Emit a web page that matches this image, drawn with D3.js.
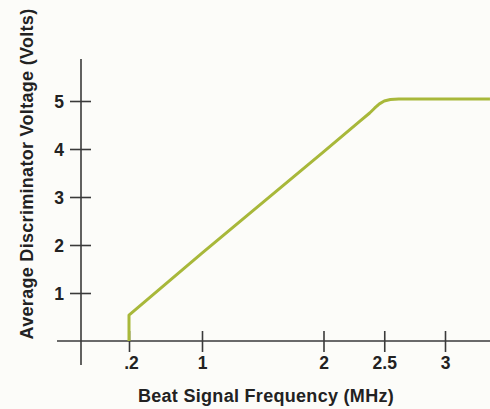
<!DOCTYPE html>
<html>
<head>
<meta charset="utf-8">
<script src="https://cdn.jsdelivr.net/npm/d3@7"></script>
<style>
  body { margin: 0; background: #fcfcf9; }
  svg { display: block; }
  text { font-family: "Liberation Sans", Arial, Helvetica, sans-serif; font-weight: bold; fill: #222; }
</style>
</head>
<body>
<div id="chart"></div>
<script>
// frequency (MHz) and voltage
const freqs = [0.2, 0.2, 1, 2, 2.3, 2.38, 2.42, 2.46, 2.5, 2.55, 2.62, 3.37];
const volts = [0, 0.54, 1.83, 3.94, 4.58, 4.75, 4.85, 4.94, 5.0, 5.03, 5.04, 5.04];
const xTicks = [0.2, 1, 2, 2.5, 3];
const xTickLabels = [".2", "1", "2", "2.5", "3"];
const yTicks = [1, 2, 3, 4, 5];

const width = 490, height = 409;
const axisX = 81, axisY = 341;

const svg = d3.select("#chart").append("svg")
    .attr("width", width)
    .attr("height", height);

// the original axis is not uniform between .2 and 1
const x = d3.scaleLinear()
    .domain([0.2, 1, 3])
    .range([129, 202, 445]);

const y = d3.scaleLinear()
    .domain([0, 5])
    .range([axisY, 101]);

// axis lines
svg.append("line")
    .attr("x1", 57).attr("x2", width)
    .attr("y1", axisY).attr("y2", axisY)
    .attr("stroke", "#3a3a3a").attr("stroke-width", 1.6);

svg.append("line")
    .attr("x1", axisX).attr("x2", axisX)
    .attr("y1", 59).attr("y2", 365)
    .attr("stroke", "#3a3a3a").attr("stroke-width", 1.6);

// x axis
const gx = svg.append("g")
    .attr("transform", `translate(0,${axisY})`)
    .call(d3.axisBottom(x)
        .tickValues(xTicks)
        .tickFormat((d, i) => xTickLabels[i]));
gx.select(".domain").remove();
gx.selectAll(".tick line")
    .attr("y1", -10).attr("y2", 11)
    .attr("stroke", "#3a3a3a").attr("stroke-width", 1.6);
gx.selectAll(".tick text")
    .attr("y", 28).attr("dy", 0)
    .attr("dx", (d, i) => i === 0 ? 2 : 0)
    .style("font-size", "17.5px");

// y axis
const gy = svg.append("g")
    .attr("transform", `translate(${axisX},0)`)
    .call(d3.axisLeft(y).tickValues(yTicks).tickFormat(d3.format("d")));
gy.select(".domain").remove();
gy.selectAll(".tick line")
    .attr("x1", -11).attr("x2", 10)
    .attr("stroke", "#3a3a3a").attr("stroke-width", 1.6);
gy.selectAll(".tick text")
    .attr("x", -17).attr("dy", "0.36em")
    .style("font-size", "17.5px");

// response curve
const points = freqs.map((f, i) => [f, volts[i]]);
svg.append("path")
    .datum(points)
    .attr("d", d3.line().x(d => x(d[0])).y(d => y(d[1])))
    .attr("fill", "none")
    .attr("stroke", "#a8b83a")
    .attr("stroke-width", 3)
    .attr("stroke-linejoin", "round");

// titles
svg.append("text")
    .attr("x", 266).attr("y", 402)
    .attr("text-anchor", "middle")
    .style("font-size", "18px")
    .style("letter-spacing", "0.3px")
    .text("Beat Signal Frequency (MHz)");

svg.append("text")
    .attr("transform", "rotate(-90)")
    .attr("x", -174).attr("y", 33)
    .attr("text-anchor", "middle")
    .style("font-size", "18px")
    .style("letter-spacing", "0.3px")
    .text("Average Discriminator Voltage (Volts)");
</script>
</body>
</html>
